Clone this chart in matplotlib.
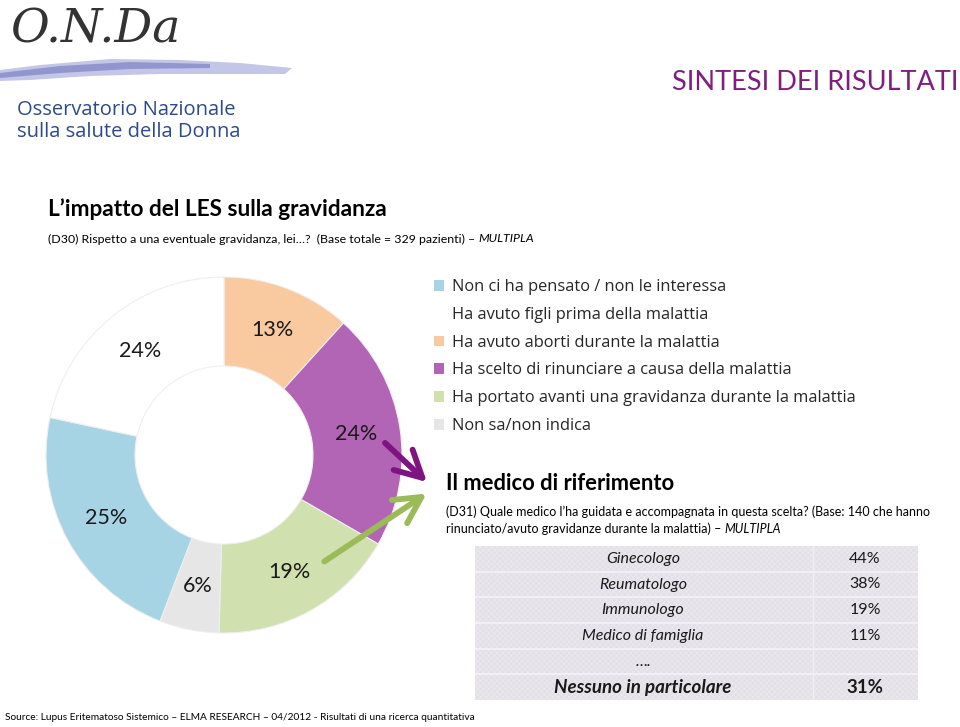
import matplotlib
matplotlib.use("Agg")
import matplotlib.pyplot as plt
from matplotlib.patches import Rectangle, Polygon

plt.rcParams['font.family'] = ['Lato', 'DejaVu Sans']
plt.rcParams['hatch.linewidth'] = 0.4

# ---------------- data ----------------
categories = ["Non ci ha pensato / non le interessa",
              "Ha avuto figli prima della malattia",
              "Ha avuto aborti durante la malattia",
              "Ha scelto di rinunciare a causa della malattia",
              "Ha portato avanti una gravidanza durante la malattia",
              "Non sa/non indica"]
values = [25, 24, 13, 24, 19, 6]
colors = ["#A6D4E4", "#FFFFFF", "#F9C9A0", "#B264B5", "#D0E0AE", "#E6E6E6"]
draw_order = [2, 3, 4, 5, 0, 1]   # clockwise from 12 o'clock

doctors = ["Ginecologo", "Reumatologo", "Immunologo", "Medico di famiglia", "….",
           "Nessuno in particolare"]
doctor_values = [44, 38, 19, 11, None, 31]

W, H = 960, 727
fig = plt.figure(figsize=(W / 100, H / 100), dpi=100)

def fx(x):
    return x / W

def fy(y):
    return 1 - y / H

# background overlay axes in pixel coordinates
bg = fig.add_axes([0, 0, 1, 1], zorder=0)
bg.set_xlim(0, W)
bg.set_ylim(H, 0)
bg.axis('off')

# ---------------- logo ----------------
sw_top = [(0, 70), (40, 65), (110, 59), (180, 60), (240, 63), (292, 68)]
sw_bot = [(285, 74), (230, 74), (160, 74), (90, 76), (30, 80), (0, 81)]
bg.add_patch(Polygon(sw_top + sw_bot, closed=True, facecolor="#B4B8E2", edgecolor='none', alpha=0.8))
core_top = [(0, 73), (60, 66), (130, 62), (210, 64)]
core_bot = [(210, 68), (130, 69), (60, 73), (0, 78)]
bg.add_patch(Polygon(core_top + core_bot, closed=True, facecolor="#7C82C4", edgecolor='none', alpha=0.7))
fig.text(fx(10), fy(30), "O.N.Da", fontsize=34, style='italic', color="#333333",
         family=['DejaVu Serif'], va='center', ha='left')
fig.text(fx(17), fy(110), "Osservatorio Nazionale", fontsize=14.5, color="#2D4A8A",
         family=['Open Sans', 'DejaVu Sans'], va='center', ha='left')
fig.text(fx(17), fy(132), "sulla salute della Donna", fontsize=14.5, color="#2D4A8A",
         family=['Open Sans', 'DejaVu Sans'], va='center', ha='left')

# ---------------- titles ----------------
fig.text(fx(958), fy(82), "SINTESI DEI RISULTATI", fontsize=19.5, color="#7E1F80",
         ha='right', va='center')
fig.text(fx(48), fy(209), "L\u2019impatto del LES sulla gravidanza", fontsize=16.3,
         fontweight='bold', color='black', ha='left', va='center')
t = fig.text(fx(48), fy(239), "(D30) Rispetto a una eventuale gravidanza, lei…?  (Base totale = 329 pazienti) \u2013 ",
             fontsize=8.9, ha='left', va='center')
fig.canvas.draw()
bb = t.get_window_extent()
fig.text(bb.x1 / W, fy(239), "MULTIPLA", fontsize=8.9, style='italic', ha='left', va='center')

# ---------------- donut ----------------
cx, cy, R = 224, 455, 178
ax = fig.add_axes([fx(cx - R), fy(cy + R), 2 * R / W, 2 * R / H], zorder=1)
tot = sum(values)
wedges, texts, autotexts = ax.pie(
    [values[i] for i in draw_order],
    colors=[colors[i] for i in draw_order],
    startangle=90, counterclock=False, radius=1,
    wedgeprops=dict(width=0.5, edgecolor="#EFEFEF", linewidth=0.8),
    autopct=lambda p: f"{round(p * tot / 100)}%", pctdistance=0.75,
    textprops=dict(fontsize=15.5, color="#1A1A1A"))
ax.set_xlim(-1, 1)
ax.set_ylim(-1, 1)
ax.set_aspect('equal')

# legend (in category order)
handle_by_cat = {draw_order[k]: wedges[k] for k in range(len(draw_order))}
handles = [handle_by_cat[i] for i in range(len(categories))]
leg = fig.legend(handles, categories, loc='upper left',
                 bbox_to_anchor=(fx(434), fy(279)), frameon=False,
                 prop=dict(family=['Open Sans', 'DejaVu Sans'], size=11.8),
                 handlelength=0.62, handleheight=0.62, handletextpad=0.45,
                 labelspacing=0.72, borderaxespad=0, borderpad=0)
for txt in leg.get_texts():
    txt.set_color("#262626")
for h in leg.legend_handles:
    h.set_edgecolor('none')

# ---------------- arrows ----------------
bg2 = fig.add_axes([0, 0, 1, 1], zorder=3)
bg2.set_xlim(0, W)
bg2.set_ylim(H, 0)
bg2.axis('off')
bg2.annotate("", xy=(429, 484), xytext=(383, 441),
             arrowprops=dict(arrowstyle="->,head_length=1.9,head_width=1.0",
                             color="#7E1482", lw=4.2))
bg2.annotate("", xy=(429, 492), xytext=(322, 563),
             arrowprops=dict(arrowstyle="->,head_length=1.9,head_width=1.0",
                             color="#9BBB59", lw=4.2))

# ---------------- right section ----------------
fig.text(fx(446), fy(484), "Il medico di riferimento", fontsize=15.8, fontweight='bold',
         ha='left', va='center')
fig.text(fx(446), fy(512), "(D31) Quale medico l\u2019ha guidata e accompagnata in questa scelta? (Base: 140 che hanno",
         fontsize=9, ha='left', va='center')
t2 = fig.text(fx(446), fy(529), "rinunciato/avuto gravidanze durante la malattia) \u2013 ",
              fontsize=9, ha='left', va='center')
fig.canvas.draw()
bb2 = t2.get_window_extent()
fig.text(bb2.x1 / W, fy(529), "MULTIPLA", fontsize=9, style='italic', ha='left', va='center')

# table
tx0, ty0, tx1, ty1 = 475, 546, 918, 700
tab = fig.add_axes([fx(tx0), fy(ty1), (tx1 - tx0) / W, (ty1 - ty0) / H], zorder=2)
n = len(doctors)
tab.set_xlim(0, tx1 - tx0)
tab.set_ylim(n, 0)
tab.axis('off')
tab.add_patch(Rectangle((0, 0), tx1 - tx0, n, facecolor="#E3E0E7", edgecolor='none'))
tab.add_patch(Rectangle((0, 0), tx1 - tx0, n, facecolor='none', edgecolor="#EEECF1",
                        hatch='xxxxxx', linewidth=0))
for i in range(1, n):
    tab.axhline(i, color="#F4F3F6", lw=1.2)
tab.axvline(338, color="#F0EEF3", lw=1.0)
for i, (d, v) in enumerate(zip(doctors, doctor_values)):
    last = (i == n - 1)
    fs = 13.5 if last else 11.5
    fw = 'bold' if last else 'normal'
    tab.text(168, i + 0.5, d, ha='center', va='center', style='italic',
             fontsize=fs, fontweight=fw, color='#1A1A1A')
    if v is not None:
        tab.text(390, i + 0.5, f"{v}%", ha='center', va='center',
                 fontsize=fs, fontweight=fw, color='#1A1A1A')

# source
fig.text(fx(5), fy(718), "Source: Lupus Eritematoso Sistemico \u2013 ELMA RESEARCH \u2013 04/2012 - Risultati di una ricerca quantitativa",
         fontsize=7.3, ha='left', va='center')

fig.savefig("out.png", dpi=100)
